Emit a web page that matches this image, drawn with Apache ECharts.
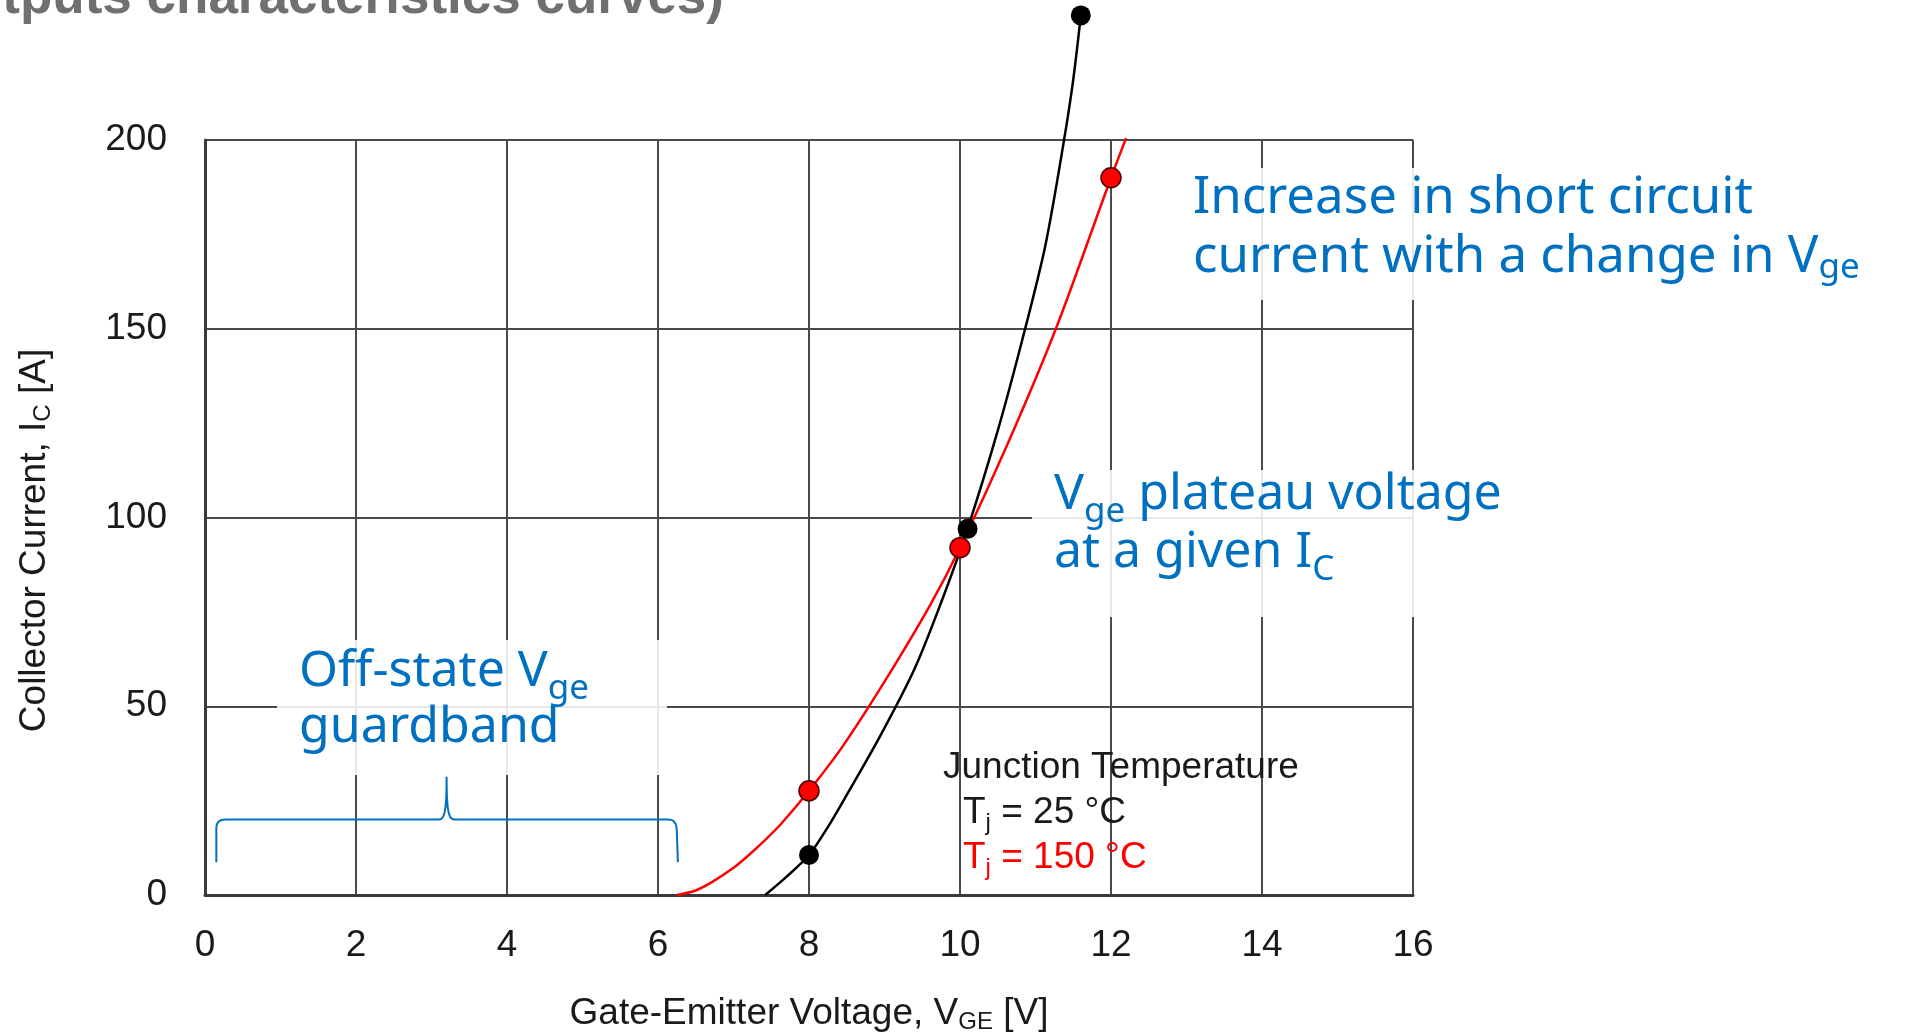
<!DOCTYPE html>
<html>
<head>
<meta charset="utf-8">
<title>IGBT transfer characteristics</title>
<script src="https://cdn.jsdelivr.net/npm/echarts@6/dist/echarts.min.js"></script>
<style>
  html, body { margin: 0; padding: 0; background: #ffffff; }
  #chart { width: 1915px; height: 1032px; }
</style>
</head>
<body>
<div id="chart"></div>
<script>
// Collector current vs. gate-emitter voltage, Tj = 25 °C
const vge25 = [7.42, 7.7, 8.0, 8.25, 8.5, 8.94, 9.4, 9.76, 10.1, 10.5, 10.85, 11.13, 11.37, 11.5, 11.6];
const ic25  = [0, 4.8, 10.6, 18, 26.5, 42, 60, 78, 97, 123, 149, 172, 199, 216, 233];

// Collector current vs. gate-emitter voltage, Tj = 150 °C
const vge150 = [6.25, 6.5, 6.73, 7.0, 7.17, 7.4, 7.62, 8.0, 8.45, 9.0, 9.61, 10.0, 10.62, 11.27, 12.0, 12.2];
const ic150  = [0, 1.2, 3.6, 7.2, 10.0, 14.2, 18.6, 27.6, 39.5, 56.5, 77, 92, 119, 150, 190, 200.5];

// Highlighted operating points on each curve
const dots25V  = [8.0, 10.1, 11.6];
const dots25I  = [10.6, 97, 233];
const dots150V = [8.0, 10.0, 12.0];
const dots150I = [27.6, 92, 190];

// Axis ticks
const xTicks = [0, 2, 4, 6, 8, 10, 12, 14, 16];
const yTicks = [0, 50, 100, 150, 200];

// Off-state guardband brace (V, A)
const braceFrom = 0.15, braceTo = 6.25, braceMid = 3.2;
const braceBase = 20, braceTip = 8.7, bracePeak = 31.3;

const AX_FONT = '"Liberation Sans", Arial, Helvetica, sans-serif';
const HAND_FONT = '"Noto Sans", sans-serif';
const BLUE = '#0070C0';
const INK = '#1a1a1a';

const pairs = (xs, ys) => xs.map((x, i) => [x, ys[i]]);

const chart = echarts.init(document.getElementById('chart'), null, { renderer: 'canvas' });

const gridLine = { show: true, lineStyle: { color: '#4a4a4a', width: 2 } };
const axisLine = { show: true, onZero: false, lineStyle: { color: '#3a3a3a', width: 3 } };

chart.setOption({
  animation: false,
  backgroundColor: '#ffffff',
  grid: { left: 205, right: 502, top: 140, bottom: 137, containLabel: false, outerBoundsMode: 'none' },
  xAxis: {
    type: 'value',
    min: xTicks[0], max: xTicks[xTicks.length - 1], interval: xTicks[1] - xTicks[0],
    axisLine: axisLine,
    axisTick: { show: false },
    splitLine: gridLine,
    axisLabel: { color: INK, fontSize: 37, fontFamily: AX_FONT, margin: 32 },
    name: 'Gate-Emitter Voltage, V{sub|GE} [V]',
    nameLocation: 'middle',
    nameGap: 98,
    nameTextStyle: {
      color: INK, fontSize: 37, fontFamily: AX_FONT, lineHeight: 41,
      rich: { sub: { color: INK, fontSize: 24, fontFamily: AX_FONT, lineHeight: 41, padding: [17, 0, 0, 0] } }
    }
  },
  yAxis: {
    type: 'value',
    min: yTicks[0], max: yTicks[yTicks.length - 1], interval: yTicks[1] - yTicks[0],
    axisLine: axisLine,
    axisTick: { show: false },
    splitLine: gridLine,
    axisLabel: { color: INK, fontSize: 37, fontFamily: AX_FONT, margin: 38 },
    name: 'Collector Current, I{sub|C} [A]',
    nameLocation: 'middle',
    nameGap: 150,
    nameTextStyle: {
      color: INK, fontSize: 37, fontFamily: AX_FONT, lineHeight: 41,
      padding: [0, 46, 0, 0],
      rich: { sub: { color: INK, fontSize: 24, fontFamily: AX_FONT, lineHeight: 41, padding: [17, 0, 0, 0] } }
    }
  },
  series: [
    {
      name: 'Tj = 25 °C', type: 'line', data: pairs(vge25, ic25),
      smooth: 0.3, symbol: 'none', clip: false, z: 3,
      lineStyle: { color: '#000000', width: 2.5 }
    },
    {
      name: 'Tj = 150 °C', type: 'line', data: pairs(vge150, ic150),
      smooth: 0.3, symbol: 'none', clip: false, z: 4,
      lineStyle: { color: '#ff0000', width: 2.5 }
    },
    {
      type: 'scatter', data: pairs(dots25V, dots25I), symbolSize: 20, clip: false, z: 5,
      itemStyle: { color: '#000000', opacity: 1 }
    },
    {
      type: 'scatter', data: pairs(dots150V, dots150I), symbolSize: 20, clip: false, z: 6,
      itemStyle: { color: '#ff0000', borderColor: '#4a0000', borderWidth: 1.5, opacity: 1 }
    }
  ]
});

// Annotation layer: brace, call-outs, temperature key and heading
const px = (v, i) => chart.convertToPixel({ gridIndex: 0 }, [v, i]);

// Sample a cubic Bézier segment into polyline points
function cubic(p0, p1, p2, p3, n) {
  const pts = [];
  for (let k = 1; k <= n; k++) {
    const t = k / n, u = 1 - t;
    pts.push([
      u * u * u * p0[0] + 3 * u * u * t * p1[0] + 3 * u * t * t * p2[0] + t * t * t * p3[0],
      u * u * u * p0[1] + 3 * u * u * t * p1[1] + 3 * u * t * t * p2[1] + t * t * t * p3[1]
    ]);
  }
  return pts;
}

const [xl, yb] = px(braceFrom, braceBase);
const [xr] = px(braceTo, braceBase);
const [xm, yp] = px(braceMid, bracePeak);
const [, yt] = px(braceFrom, braceTip);
const r = 9;
const bracePoints = [[xl, yt], [xl, yb + r]]
  .concat(cubic([xl, yb + r], [xl, yb + 3], [xl + 3, yb], [xl + r, yb], 8))
  .concat([[xm - 8, yb]])
  .concat(cubic([xm - 8, yb], [xm - 2, yb], [xm, yb - 8], [xm, yp], 10))
  .concat(cubic([xm, yp], [xm, yb - 8], [xm + 2, yb], [xm + 8, yb], 10))
  .concat([[xr - r, yb]])
  .concat(cubic([xr - r, yb], [xr - 3, yb], [xr, yb + 3], [xr, yb + r + 4], 8))
  .concat([[xr + 1, yt]]);

const veil = 'rgba(255,255,255,0.87)';
const handSub = (pad) => ({ sub: { fill: BLUE, fontSize: 35, fontFamily: HAND_FONT, padding: [pad, 0, 0, 0] } });
const keySub = (color) => ({ sub: { fill: color, fontSize: 24, fontFamily: AX_FONT, padding: [20, 0, 0, 0] } });

chart.setOption({
  graphic: {
    elements: [
      { type: 'rect', silent: true, z: 10, shape: { x: 1180, y: 168, width: 725, height: 132 }, style: { fill: veil } },
      { type: 'rect', silent: true, z: 10, shape: { x: 1032, y: 470, width: 500, height: 147 }, style: { fill: veil } },
      { type: 'rect', silent: true, z: 10, shape: { x: 277, y: 640, width: 390, height: 135 }, style: { fill: veil } },
      {
        type: 'text', silent: true, z: 11,
        style: {
          x: 1193, y: 169, text: 'Increase in short circuit\ncurrent with a change in V{sub|ge}',
          fill: BLUE, fontSize: 51, fontFamily: HAND_FONT, lineHeight: 59,
          align: 'left', textAlign: 'left', verticalAlign: 'top', textVerticalAlign: 'top',
          rich: handSub(22)
        }
      },
      {
        type: 'text', silent: true, z: 11,
        style: {
          x: 1054, y: 466, text: 'V{sub|ge} plateau voltage\nat a given I{sub|C}',
          fill: BLUE, fontSize: 50, fontFamily: HAND_FONT, lineHeight: 58,
          align: 'left', textAlign: 'left', verticalAlign: 'top', textVerticalAlign: 'top',
          rich: handSub(34)
        }
      },
      {
        type: 'text', silent: true, z: 11,
        style: {
          x: 299, y: 644, text: 'Off-state V{sub|ge}\nguardband',
          fill: BLUE, fontSize: 50, fontFamily: HAND_FONT, lineHeight: 56,
          align: 'left', textAlign: 'left', verticalAlign: 'top', textVerticalAlign: 'top',
          rich: handSub(34)
        }
      },
      {
        type: 'polyline', silent: true, z: 12,
        shape: { points: bracePoints },
        style: { stroke: BLUE, lineWidth: 2, fill: null }
      },
      {
        type: 'text', silent: true, z: 11,
        style: {
          x: 943, y: 768, text: 'Junction Temperature', fill: INK, fontSize: 37, fontFamily: AX_FONT,
          align: 'left', textAlign: 'left', verticalAlign: 'middle', textVerticalAlign: 'middle'
        }
      },
      {
        type: 'text', silent: true, z: 11,
        style: {
          x: 963, y: 813, text: 'T{sub|j} = 25 °C', fill: INK, fontSize: 37, fontFamily: AX_FONT, lineHeight: 44,
          align: 'left', textAlign: 'left', verticalAlign: 'middle', textVerticalAlign: 'middle',
          rich: keySub(INK)
        }
      },
      {
        type: 'text', silent: true, z: 11,
        style: {
          x: 963, y: 858, text: 'T{sub|j} = 150 °C', fill: '#ff0000', fontSize: 37, fontFamily: AX_FONT, lineHeight: 44,
          align: 'left', textAlign: 'left', verticalAlign: 'middle', textVerticalAlign: 'middle',
          rich: keySub('#ff0000')
        }
      },
      {
        type: 'text', silent: true, z: 11,
        style: {
          x: 724, y: -2, text: '(Outputs characteristics curves)', fill: '#707070',
          fontSize: 53, fontWeight: 'bold', fontFamily: AX_FONT,
          align: 'right', textAlign: 'right', verticalAlign: 'middle', textVerticalAlign: 'middle'
        }
      }
    ]
  }
});
</script>
</body>
</html>
